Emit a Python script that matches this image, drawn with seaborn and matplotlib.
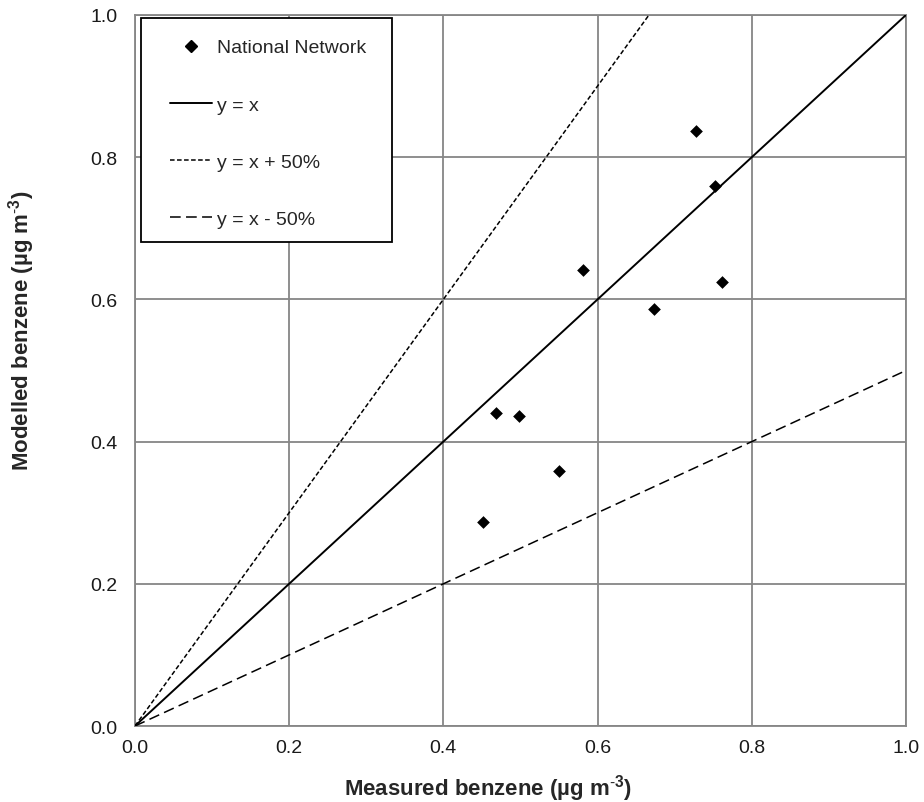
import numpy as np
import pandas as pd
import matplotlib
matplotlib.use('Agg')
import matplotlib.pyplot as plt
import seaborn as sns
from matplotlib.lines import Line2D
from matplotlib.patches import Rectangle

# measured vs modelled benzene at national network sites
measured = [0.452, 0.468, 0.498, 0.550, 0.581, 0.673, 0.728, 0.752, 0.761]
modelled = [0.287, 0.440, 0.436, 0.358, 0.641, 0.586, 0.837, 0.760, 0.625]

# reference lines
line_x = [0.0, 1.0]
line_equal = [0.0, 1.0]
line_plus50 = [0.0, 1.5]
line_minus50 = [0.0, 0.5]

ticks = [0.0, 0.2, 0.4, 0.6, 0.8, 1.0]
tick_labels = ['0.0', '0.2', '0.4', '0.6', '0.8', '1.0']

sns.set_theme(style='white')
plt.rcParams['font.family'] = ['Liberation Sans', 'DejaVu Sans']
plt.rcParams['mathtext.fontset'] = 'custom'
plt.rcParams['mathtext.rm'] = 'Liberation Sans'
plt.rcParams['mathtext.bf'] = 'Liberation Sans:bold'

grey = '#868686'
dotted = (0, (3, 1.6))
dashed = (0, (7, 3.5))

fig = plt.figure(figsize=(9.24, 8.03), dpi=100)
ax = fig.add_axes([0.146, 0.0946, 0.8345, 0.8855])

df = pd.DataFrame({'measured': measured, 'modelled': modelled})
sns.scatterplot(data=df, x='measured', y='modelled', marker='D', s=42,
                color='black', edgecolor='black', linewidth=0, zorder=4, ax=ax)

sns.lineplot(x=line_x, y=line_equal, color='black', lw=1.4, ax=ax, zorder=3)
sns.lineplot(x=line_x, y=line_plus50, color='black', lw=1.1,
             linestyle=dotted, ax=ax, zorder=3)
sns.lineplot(x=line_x, y=line_minus50, color='black', lw=1.1,
             linestyle=dashed, ax=ax, zorder=3)

ax.set_xlim(0, 1)
ax.set_ylim(0, 1)
ax.set_xticks(ticks)
ax.set_yticks(ticks)
ax.set_xticklabels(tick_labels)
ax.set_yticklabels(tick_labels)
ax.tick_params(axis='both', direction='out', length=5, width=1, color=grey,
               labelsize=14, labelcolor='#1a1a1a')
ax.tick_params(axis='x', pad=4.5)
ax.tick_params(axis='y', pad=7.5)
ax.grid(True, color=grey, lw=1.3)
ax.set_axisbelow(True)
for s in ax.spines.values():
    s.set_color(grey)
    s.set_linewidth(1.3)

ax.set_xlabel(r'Measured benzene (µg m$^{\text{-}\mathbf{3}}$)', fontsize=16,
              fontweight='bold')
ax.set_ylabel(r'Modelled benzene (µg m$^{\text{-}\mathbf{3}}$)', fontsize=16,
              fontweight='bold')
ax.xaxis.set_label_coords(0.458, -0.0648)
ax.yaxis.set_label_coords(-0.1275, 0.558)

# legend box (fixed size, like the original)
box = Rectangle((0.0078, 0.6807), 0.3255, 0.3151, transform=ax.transAxes,
                facecolor='white', edgecolor='black', lw=1.3, zorder=5)
ax.add_patch(box)

handles = [
    Line2D([], [], marker='D', ls='none', color='black', markersize=6.2),
    Line2D([], [], color='black', lw=1.4),
    Line2D([], [], color='black', lw=1.1, linestyle=dotted),
    Line2D([], [], color='black', lw=1.1, linestyle=dashed),
]
labels = ['National Network', 'y = x', 'y = x + 50%', 'y = x - 50%']
leg = ax.legend(handles, labels, loc='upper left', bbox_to_anchor=(0.0454, 0.9664),
                borderaxespad=0, borderpad=0, fontsize=14, frameon=False,
                labelspacing=2.03, handlelength=2.16, handletextpad=0.26)
leg.set_zorder(6)

fig.savefig('out.png', dpi=100)
